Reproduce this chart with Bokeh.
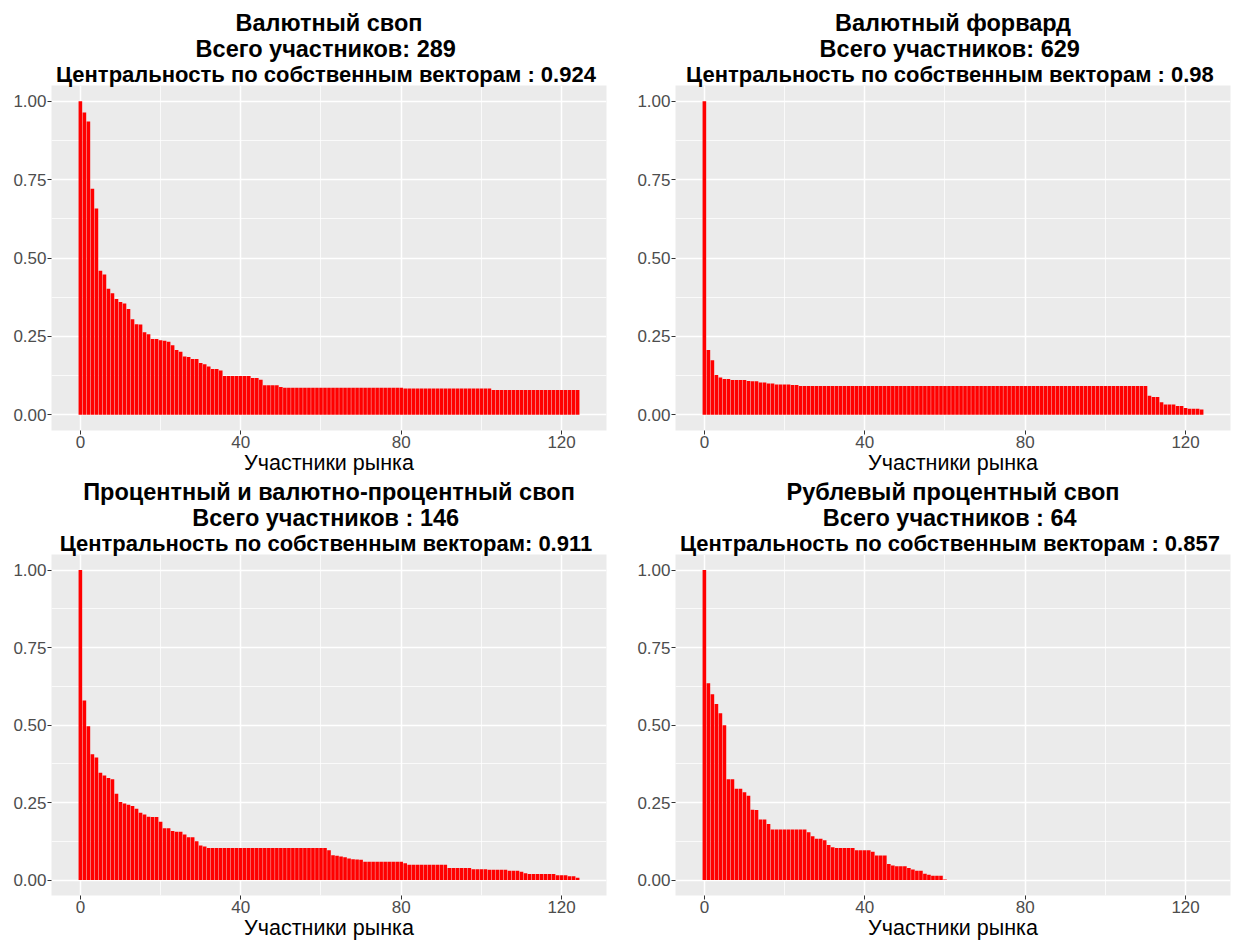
from bokeh.plotting import figure
from bokeh.models import Range1d, FixedTicker, NumeralTickFormatter, Title
from bokeh.layouts import gridplot
from bokeh.embed import file_html
from bokeh.resources import INLINE

# ---------------- data ----------------
swap_vals = [
    1.000, 0.964, 0.935, 0.721, 0.658, 0.459, 0.447, 0.402, 0.388, 0.369,
    0.360, 0.355, 0.337, 0.305, 0.289, 0.288, 0.263, 0.257, 0.242, 0.242,
    0.238, 0.236, 0.233, 0.222, 0.207, 0.201, 0.186, 0.184, 0.178, 0.178,
    0.165, 0.161, 0.154, 0.146, 0.146, 0.141, 0.124, 0.124, 0.124, 0.124,
    0.124, 0.124, 0.124, 0.117, 0.117, 0.112, 0.094, 0.094, 0.094, 0.094,
    0.089, 0.086, 0.086, 0.086, 0.086, 0.086, 0.086, 0.086, 0.086, 0.086,
    0.086, 0.086, 0.086, 0.086, 0.086, 0.086, 0.086, 0.086, 0.086, 0.086,
    0.086, 0.086, 0.086, 0.086, 0.086, 0.086, 0.086, 0.086, 0.086, 0.086,
    0.086, 0.084, 0.084, 0.084, 0.084, 0.084, 0.084, 0.084, 0.084, 0.084,
    0.084, 0.084, 0.084, 0.084, 0.084, 0.084, 0.084, 0.084, 0.084, 0.084,
    0.084, 0.084, 0.084, 0.079, 0.079, 0.079, 0.079, 0.079, 0.079, 0.079,
    0.079, 0.079, 0.079, 0.079, 0.079, 0.079, 0.079, 0.079, 0.079, 0.079,
    0.079, 0.079, 0.079, 0.079, 0.079,
]

forward_vals = [
    1.000, 0.207, 0.174, 0.127, 0.119, 0.114, 0.114, 0.111, 0.111, 0.111,
    0.111, 0.108, 0.107, 0.107, 0.103, 0.103, 0.100, 0.100, 0.097, 0.097,
    0.097, 0.097, 0.095, 0.095, 0.092, 0.092, 0.092, 0.092, 0.092, 0.092,
    0.092, 0.092, 0.092, 0.092, 0.092, 0.092, 0.092, 0.092, 0.092, 0.092,
    0.092, 0.092, 0.092, 0.092, 0.092, 0.092, 0.092, 0.092, 0.092, 0.092,
    0.092, 0.092, 0.092, 0.092, 0.092, 0.092, 0.092, 0.092, 0.092, 0.092,
    0.092, 0.092, 0.092, 0.092, 0.092, 0.092, 0.092, 0.092, 0.092, 0.092,
    0.092, 0.092, 0.092, 0.092, 0.092, 0.092, 0.092, 0.092, 0.092, 0.092,
    0.092, 0.092, 0.092, 0.092, 0.092, 0.092, 0.092, 0.092, 0.092, 0.092,
    0.092, 0.092, 0.092, 0.092, 0.092, 0.092, 0.092, 0.092, 0.092, 0.092,
    0.092, 0.092, 0.092, 0.092, 0.092, 0.092, 0.092, 0.092, 0.092, 0.092,
    0.092, 0.061, 0.057, 0.057, 0.040, 0.033, 0.033, 0.033, 0.028, 0.028,
    0.022, 0.019, 0.019, 0.019, 0.017,
]

irs_ccs_vals = [
    1.000, 0.579, 0.496, 0.406, 0.395, 0.346, 0.337, 0.329, 0.325, 0.278,
    0.252, 0.247, 0.243, 0.239, 0.230, 0.217, 0.211, 0.204, 0.203, 0.203,
    0.188, 0.167, 0.167, 0.158, 0.156, 0.156, 0.147, 0.138, 0.138, 0.125,
    0.111, 0.108, 0.103, 0.103, 0.103, 0.103, 0.103, 0.103, 0.103, 0.103,
    0.103, 0.103, 0.103, 0.103, 0.103, 0.103, 0.103, 0.103, 0.103, 0.103,
    0.103, 0.103, 0.103, 0.103, 0.103, 0.103, 0.103, 0.103, 0.103, 0.103,
    0.103, 0.103, 0.096, 0.080, 0.078, 0.076, 0.073, 0.069, 0.067, 0.066,
    0.065, 0.059, 0.059, 0.059, 0.059, 0.059, 0.059, 0.059, 0.059, 0.059,
    0.059, 0.054, 0.049, 0.049, 0.049, 0.049, 0.049, 0.049, 0.049, 0.049,
    0.049, 0.049, 0.039, 0.039, 0.039, 0.039, 0.039, 0.039, 0.035, 0.035,
    0.035, 0.035, 0.033, 0.033, 0.033, 0.033, 0.033, 0.030, 0.030, 0.030,
    0.027, 0.022, 0.019, 0.019, 0.019, 0.019, 0.019, 0.019, 0.019, 0.015,
    0.015, 0.015, 0.012, 0.012, 0.007,
]

rub_irs_vals = [
    1.000, 0.635, 0.599, 0.568, 0.538, 0.499, 0.325, 0.325, 0.294, 0.294,
    0.283, 0.272, 0.227, 0.226, 0.195, 0.195, 0.181, 0.163, 0.163, 0.163,
    0.163, 0.163, 0.163, 0.163, 0.163, 0.163, 0.154, 0.141, 0.133, 0.133,
    0.128, 0.113, 0.106, 0.103, 0.103, 0.103, 0.103, 0.103, 0.096, 0.096,
    0.096, 0.096, 0.091, 0.079, 0.079, 0.079, 0.052, 0.047, 0.044, 0.044,
    0.044, 0.039, 0.034, 0.030, 0.030, 0.020, 0.017, 0.014, 0.014, 0.014,
    0.002,
]

titles = [
    ["Валютный своп", "Всего участников:  289",
     "Центральность по собственным векторам :  0.924"],
    ["Валютный форвард", "Всего участников:  629",
     "Центральность по собственным векторам :  0.98"],
    ["Процентный и валютно-процентный своп", "Всего участников :  146",
     "Центральность по собственным векторам:  0.911"],
    ["Рублевый процентный своп", "Всего участников :  64",
     "Центральность по собственным векторам :  0.857"],
]

x_label = "Участники рынка"
x_ticks = [0, 40, 80, 120]
x_minor = [20, 60, 100]
y_ticks = [0.0, 0.25, 0.5, 0.75, 1.0]
y_minor = [0.125, 0.375, 0.625, 0.875]

FONT = "Liberation Sans"
TITLE_SIZES = ["23.5px", "23.5px", "22px"]


def make_panel(vals, title_lines, frame_h, right_border, top_border):
    p = figure(
        frame_width=555, frame_height=frame_h,
        x_range=Range1d(-7.2, 131.2), y_range=Range1d(-0.05, 1.05),
        output_backend="svg", toolbar_location=None,
        min_border_left=51, min_border_right=right_border,
        min_border_top=top_border, min_border_bottom=0,
    )
    p.background_fill_color = "#EBEBEB"
    p.border_fill_color = "white"
    p.outline_line_color = None

    # titles (inner line first)
    for line, size in reversed(list(zip(title_lines, TITLE_SIZES))):
        p.add_layout(Title(text=line, align="center", text_font=FONT,
                           text_font_size=size, text_font_style="bold",
                           text_color="black", standoff=-2, offset=0), "above")

    idx = list(range(len(vals)))
    p.vbar(x=idx, top=vals, width=0.9, fill_color="#FF0000", line_color=None)

    p.xaxis.ticker = FixedTicker(ticks=x_ticks, minor_ticks=x_minor)
    p.yaxis.ticker = FixedTicker(ticks=y_ticks, minor_ticks=y_minor)
    p.yaxis.formatter = NumeralTickFormatter(format="0.00")

    for ax in (p.xaxis[0], p.yaxis[0]):
        ax.axis_line_color = None
        ax.major_tick_line_color = "#333333"
        ax.major_tick_line_width = 1
        ax.major_tick_in = 0
        ax.major_tick_out = 4
        ax.minor_tick_line_color = None
        ax.major_label_text_font = FONT
        ax.major_label_text_font_size = "17px"
        ax.major_label_text_color = "#4D4D4D"
        ax.major_label_standoff = 1

    p.xaxis.axis_label = x_label
    p.xaxis.axis_label_text_font = FONT
    p.xaxis.axis_label_text_font_size = "21.5px"
    p.xaxis.axis_label_text_font_style = "normal"
    p.xaxis.axis_label_text_color = "black"
    p.xaxis.axis_label_standoff = 0

    p.xgrid.grid_line_color = "white"
    p.ygrid.grid_line_color = "white"
    p.xgrid.grid_line_width = 1.5
    p.ygrid.grid_line_width = 1.5
    p.xgrid.minor_grid_line_color = "white"
    p.ygrid.minor_grid_line_color = "white"
    p.xgrid.minor_grid_line_width = 0.75
    p.ygrid.minor_grid_line_width = 0.75
    return p


p1 = make_panel(swap_vals, titles[0], 345, 18, 85)
p2 = make_panel(forward_vals, titles[1], 345, 9, 85)
p3 = make_panel(irs_ccs_vals, titles[2], 341, 18, 76)
p4 = make_panel(rub_irs_vals, titles[3], 341, 9, 76)

grid = gridplot([[p1, p2], [p3, p4]], toolbar_location=None)

open("out.html", "w").write(file_html(grid, INLINE))
